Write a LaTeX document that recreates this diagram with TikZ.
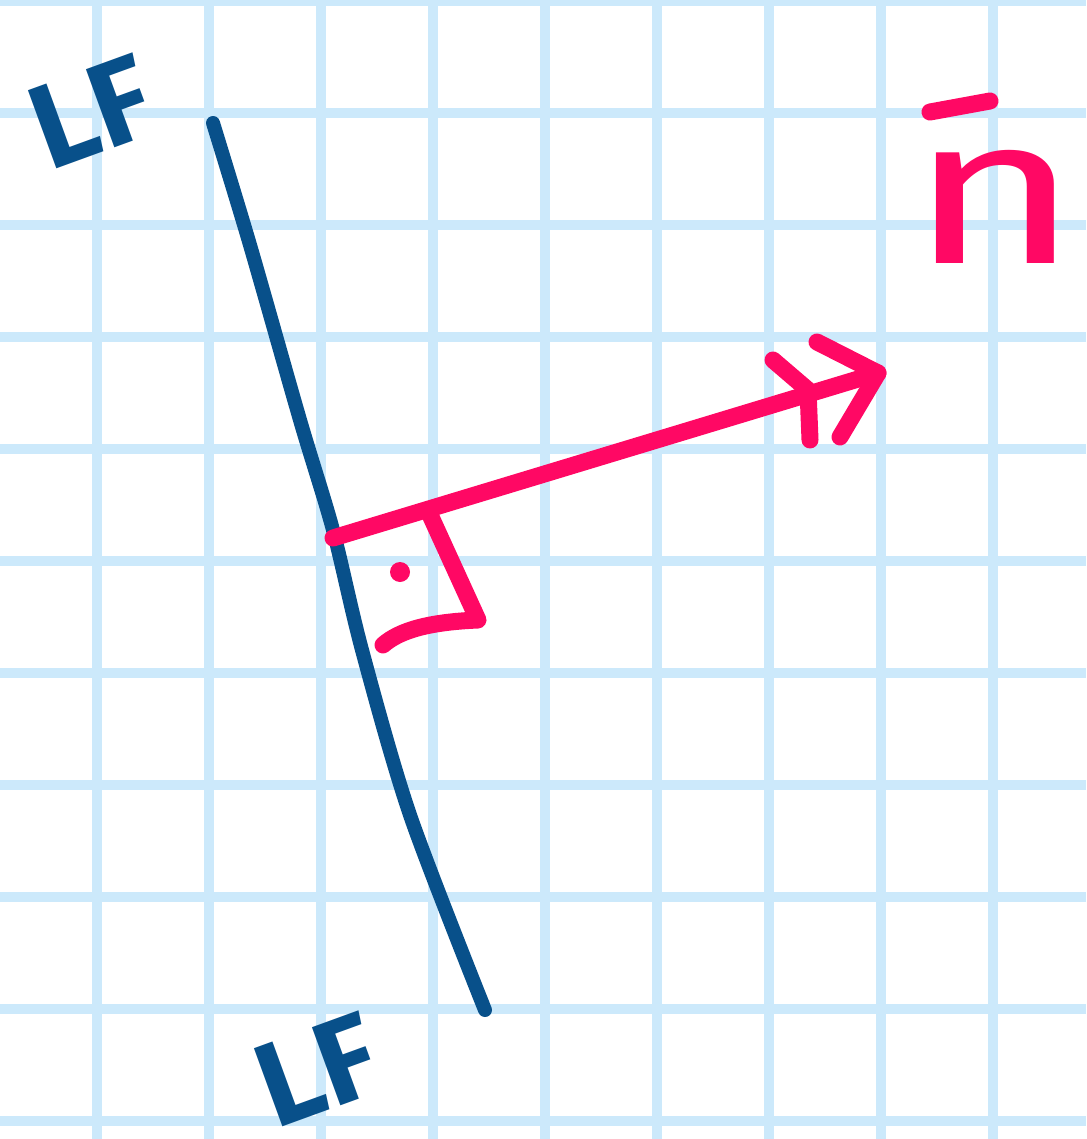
\documentclass[tikz,border=0pt]{standalone}
\usepackage{fontspec}
\usepackage{graphicx}
\setmainfont{Fira Sans}
\definecolor{gridblue}{RGB}{204,233,251}
\definecolor{inkblue}{RGB}{8,80,138}
\definecolor{inkpink}{RGB}{255,8,100}
\begin{document}
\begin{tikzpicture}[x=1pt,y=-1pt,
  gridline/.style={draw=gridblue,line width=10pt},
  bluepen/.style={draw=inkblue,line width=14pt,line cap=round,line join=round},
  pinkpen/.style={draw=inkpink,line width=17pt,line cap=round,line join=round},
  lflabel/.style={text=inkblue,font=\fontsize{120}{120}\selectfont\bfseries,inner sep=0pt,rotate=20},
  nlabel/.style={text=inkpink,font=\fontsize{210}{210}\selectfont\mdseries,inner sep=0pt}]
\useasboundingbox[fill=white] (0,0) rectangle (1086,1139);
% grid paper
\foreach \gx in {97,209,...,1000} \draw[gridline] (\gx,0) -- (\gx,1139);
\foreach \gy in {1,113,...,1130} \draw[gridline] (0,\gy) -- (1086,\gy);
% labels
\node[lflabel] (lftop) at (92,112) {LF};
\node[lflabel] (lfbot) at (318,1070) {LF};
\node[nlabel,anchor=base] (nvec) at (995,264) {\scalebox{1.4}[1]{n}};
\coordinate (barL) at (930,112);
\coordinate (barR) at (990,101);
\draw[pinkpen] (barL) -- (barR);
% line LF
\coordinate (lineTop) at (213,123);
\coordinate (lineBot) at (485,1010);
\draw[bluepen] plot[smooth,tension=0.5] coordinates {(213,123) (250,245) (300,420) (333,530) (362,650) (410,815) (485,1010)};
% normal vector
\coordinate (foot) at (333,538);
\coordinate (tip) at (878,373);
\draw[pinkpen] (foot) -- (tip);
\coordinate (barbA) at (817,342);
\coordinate (barbB) at (840,437);
\coordinate (barbC) at (773,360);
\coordinate (barbD) at (808,390);
\coordinate (barbE) at (810,440);
\draw[pinkpen] (barbA) -- (tip) -- (barbB);
\draw[pinkpen] (barbC) -- (barbD) -- (barbE);
% right angle mark
\coordinate (raA) at (431,517);
\coordinate (raB) at (478,620);
\coordinate (raC) at (383,645);
\draw[pinkpen] (raA) -- (raB) .. controls (430,622) and (400,630) .. (raC);
\fill[inkpink] (400,572) circle (10);
\end{tikzpicture}
\end{document}
